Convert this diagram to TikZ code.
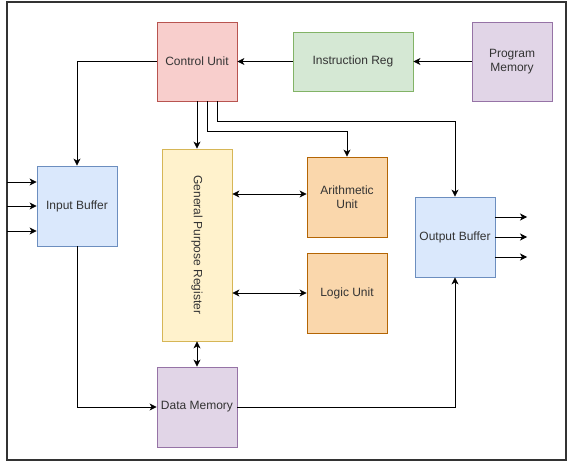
\documentclass[tikz,border=0pt]{standalone}
\usepackage{fontspec}
\setmainfont{Liberation Sans}
\usetikzlibrary{arrows.meta}
\definecolor{cuF}{HTML}{F8CECC}\definecolor{cuD}{HTML}{B85450}
\definecolor{grF}{HTML}{D5E8D4}\definecolor{grD}{HTML}{82B366}
\definecolor{puF}{HTML}{E1D5E7}\definecolor{puD}{HTML}{9673A6}
\definecolor{blF}{HTML}{DAE8FC}\definecolor{blD}{HTML}{6C8EBF}
\definecolor{yeF}{HTML}{FFF2CC}\definecolor{yeD}{HTML}{D6B656}
\definecolor{orF}{HTML}{FAD7AC}\definecolor{orD}{HTML}{B46504}
\definecolor{txt}{HTML}{333333}
\tikzset{
  box/.style={draw, line width=0.8pt, inner sep=0pt, align=center,
    font=\fontsize{12}{14.5}\selectfont, text=txt},
  arr/.style={line width=0.8pt, -{Stealth[length=7pt,width=7pt,inset=2pt]}},
  arrtwo/.style={line width=0.8pt, {Stealth[length=7pt,width=7pt,inset=2pt]}-{Stealth[length=7pt,width=7pt,inset=2pt]}},
  plain/.style={line width=0.8pt}
}
\begin{document}
\begin{tikzpicture}[x=1pt,y=-1pt]
\useasboundingbox (0,0) rectangle (569,462);
\draw[line width=2pt, black!80] (7,2) rectangle (566,460);

\node[box, fill=cuF, draw=cuD, minimum width=80pt, minimum height=79pt] (cu) at (197,61.5) {Control Unit};
\node[box, fill=grF, draw=grD, minimum width=120pt, minimum height=59pt] (ir) at (353,61.5) {Instruction Reg};
\node[box, fill=puF, draw=puD, minimum width=80pt, minimum height=79pt] (pm) at (512,61.5) {Program\\Memory};
\node[box, fill=blF, draw=blD, minimum width=80pt, minimum height=80pt] (ib) at (77,206) {Input Buffer};
\node[box, fill=yeF, draw=yeD, minimum width=70pt, minimum height=192pt,
  label={[rotate=-90, font=\fontsize{12}{14.5}\selectfont, text=txt]center:General Purpose Register}] (gpr) at (197,245) {};
\node[box, fill=orF, draw=orD, minimum width=80pt, minimum height=80pt] (au) at (347,197) {Arithmetic\\Unit};
\node[box, fill=orF, draw=orD, minimum width=80pt, minimum height=80pt] (lu) at (347,293) {Logic Unit};
\node[box, fill=blF, draw=blD, minimum width=80pt, minimum height=80pt] (ob) at (455,237) {Output Buffer};
\node[box, fill=puF, draw=puD, minimum width=80pt, minimum height=80pt] (dm) at (197,407) {Data Memory};

\draw[arr] (pm.west) -- (ir.east);
\draw[arr] (ir.west) -- (cu.east);
\draw[arr] (cu.west) -| (ib.north);
\draw[arr] (cu.south) -- (gpr.north);
\draw[arr] ([xshift=10pt]cu.south) -- ++(0,30) -| (au.north);
\draw[arr] ([xshift=20pt]cu.south) -- ++(0,20) -| (ob.north);

\coordinate (i1) at (7,182);
\coordinate (i2) at (7,206);
\coordinate (i3) at (7,231);
\draw[arr] (i1) -- (i1 -| ib.west);
\draw[arr] (i2) -- (i2 -| ib.west);
\draw[arr] (i3) -- (i3 -| ib.west);

\draw[arrtwo] ([yshift=3pt]au.west -| gpr.east) -- ([yshift=3pt]au.west);
\draw[arrtwo] (lu.west -| gpr.east) -- (lu.west);
\draw[arrtwo] (gpr.south) -- (dm.north);

\draw[arr] (ib.south) |- (dm.west);
\draw[arr] (dm.east) -| (ob.south);

\coordinate (o1) at (527,217);
\coordinate (o2) at (527,237);
\coordinate (o3) at (527,257);
\draw[arr] (o1 -| ob.east) -- (o1);
\draw[arr] (o2 -| ob.east) -- (o2);
\draw[arr] (o3 -| ob.east) -- (o3);
\end{tikzpicture}
\end{document}
